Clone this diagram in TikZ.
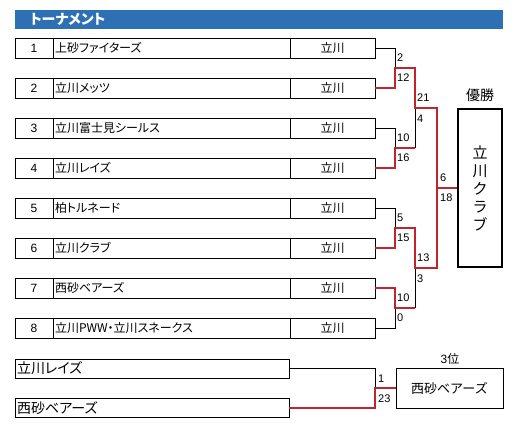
\documentclass[tikz,border=0pt]{standalone}
\usepackage{fontspec}
\setmainfont{Liberation Sans}
\newfontfamily\jp[RawFeature=+palt]{Noto Sans CJK JP}
\newfontfamily\jpw{Noto Sans CJK JP}
\definecolor{titleblue}{RGB}{46,112,180}
\definecolor{winred}{RGB}{192,36,44}
\begin{document}
\begin{tikzpicture}[x=1pt,y=-1pt,
  cell/.style={draw, line width=1pt, minimum height=20pt, inner sep=0pt, outer sep=0pt, anchor=west},
  numcell/.style={cell, minimum width=38pt, font=\fontsize{12}{12}\selectfont},
  namecell/.style={cell, text width=233pt, inner xsep=2pt, align=left, font=\jp\fontsize{12}{12}\selectfont},
  areacell/.style={cell, minimum width=85pt, font=\jp\fontsize{12}{12}\selectfont},
  bigname/.style={cell, minimum height=19pt, text width=270pt, inner xsep=2pt, align=left, font=\jp\fontsize{14}{14}\selectfont},
  score/.style={anchor=west, inner sep=0pt, font=\fontsize{11}{11}\selectfont},
  blk/.style={draw=black, line width=1pt},
  win/.style={draw=winred, line width=2.2pt, line join=miter},
]
\useasboundingbox (0,0) rectangle (519,429);
% title
\node[fill=titleblue, anchor=north west, minimum height=19pt, text width=458pt, inner xsep=15pt, inner ysep=0pt, align=left, text=white, font=\jp\bfseries\fontsize{14}{14}\selectfont] (title) at (15,10) {トーナメント};
% rows
\foreach \n/\t [evaluate=\n as \yy using 8+40*\n] in {1/上砂ファイターズ,2/立川メッツ,3/立川富士見シールス,4/立川レイズ,5/柏トルネード,6/立川クラブ,7/西砂ベアーズ,8/立川PWW・立川スネークス}{
  \node[numcell] (n\n) at (15,\yy) {\n};
  \node[namecell] (m\n) at (53,\yy) {\t};
  \node[areacell] (a\n) at (290,\yy) {立川};
}
% junctions
\coordinate (j12) at (395,68);
\coordinate (j34) at (395,148);
\coordinate (j56) at (395,228);
\coordinate (j78) at (395,308);
\coordinate (s1) at (415,108);
\coordinate (s2) at (415,268);
\coordinate (f) at (437,188);
% champion
\node[draw, line width=2.5pt, minimum width=44pt, minimum height=158pt, inner sep=0pt, align=center, font=\jpw\fontsize{15}{18}\selectfont] (champ) at (480,188) {立\\川\\ク\\ラ\\ブ};
\node[font=\jpw\fontsize{14}{14}\selectfont, inner sep=0pt] (champlbl) at (480,95) {優勝};
% black connectors
\draw[blk] (a1.east) -| (j12);
\draw[blk] (a3.east) -| (j34);
\draw[blk] (a5.east) -| (j56);
\draw[blk] (a8.east) -| (j78);
\draw[blk] (j34 -| s1) -- (s1);
\draw[blk] (j78 -| s2) -- (s2);
% red connectors
\draw[win] (a2.east) -| (j12) -| (s1) -| (f);
\draw[win] (a4.east) -| (j34) -- (j34 -| s1);
\draw[win] (a6.east) -| (j56) -| (s2) -| (f) -- (champ.west);
\draw[win] (a7.east) -| (j78) -- (j78 -| s2);
% scores
\node[score] (sc1) at (397,58) {2};
\node[score] (sc2) at (397,78) {12};
\node[score] (sc3) at (417,98) {21};
\node[score] (sc4) at (417,119) {4};
\node[score] (sc5) at (397,138) {10};
\node[score] (sc6) at (397,158) {16};
\node[score] (sc7) at (440,178) {6};
\node[score] (sc8) at (440,198) {18};
\node[score] (sc9) at (397,218) {5};
\node[score] (sc10) at (397,238) {15};
\node[score] (sc11) at (417,258) {13};
\node[score] (sc12) at (417,279) {3};
\node[score] (sc13) at (397,298) {10};
\node[score] (sc14) at (397,318) {0};
% third place
\node[bigname] (b1) at (15,368.5) {立川レイズ};
\node[bigname] (b2) at (15,408) {西砂ベアーズ};
\coordinate (t) at (375,388);
\node[draw, line width=1pt, minimum width=107pt, minimum height=40pt, inner sep=0pt, font=\jpw\fontsize{13}{13}\selectfont] (third) at (449.5,388) {西砂ベアーズ};
\node[font=\fontsize{12}{12}\selectfont, inner sep=0pt] (thirdlbl) at (450,359) {3\jpw 位};
\draw[blk] (b1.east) -| (t);
\draw[win] (b2.east) -| (t) -- (third.west);
\node[score] (sc15) at (378,379) {1};
\node[score] (sc16) at (378,399) {23};
\end{tikzpicture}
\end{document}
